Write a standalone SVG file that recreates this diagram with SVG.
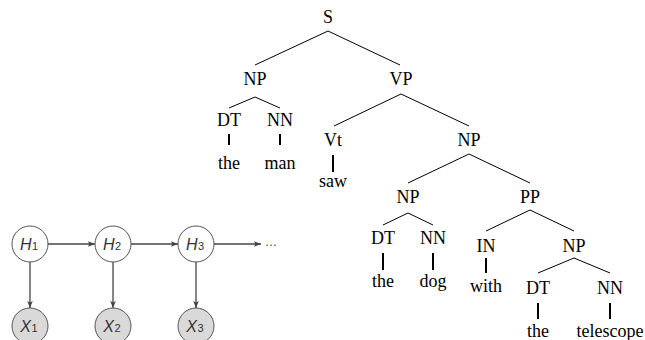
<svg xmlns="http://www.w3.org/2000/svg" width="645" height="340" viewBox="0 0 645 340">
<defs>
<style>
.t{font-family:"Liberation Serif","Times New Roman",serif;font-size:18px;fill:#000;text-anchor:middle}
.e{stroke:#000;stroke-width:1;fill:none}
.v{stroke:#000;stroke-width:2;fill:none}
.h{fill:#fff;stroke:#555;stroke-width:1}
.x{fill:#d9d9d9;stroke:#555;stroke-width:1}
.l{font-family:"Liberation Sans",Arial,sans-serif;font-size:16px;font-style:italic;fill:#333;text-anchor:middle}
.s{font-size:11px;font-style:normal}
.a{stroke:#444;stroke-width:1.3;fill:none;marker-end:url(#ah)}
</style>
<marker id="ah" viewBox="0 0 10 10" refX="10" refY="5" markerWidth="7" markerHeight="7" markerUnits="userSpaceOnUse" orient="auto">
<path d="M0,1 L10,5 L0,9 L2,5 Z" fill="#444"/>
</marker>
</defs>
<rect width="645" height="340" fill="#fff"/>

<g id="tree-edges">
<path class="e" d="M328,31 L255,65 M328,31 L400,65"/>
<path class="e" d="M255,97 L229,108 M255,97 L280,108"/>
<path class="e" d="M401,94 L334,126 M401,94 L469,126"/>
<path class="e" d="M469,154 L408,183 M469,154 L530,183"/>
<path class="e" d="M408,213 L383,225 M408,213 L433,225"/>
<path class="e" d="M530,210 L486,231 M530,210 L574,231"/>
<path class="e" d="M574,258 L538,273 M574,258 L610,273"/>
<path class="v" d="M229,134 V145 M280,134 V145 M333,155 V172 M383,253 V270 M433,253 V270 M486,258 V273 M538,303 V319 M610,303 V319"/>
</g>

<g id="S"><text class="t" x="328" y="22.5">S</text></g>
<g id="NP1"><text class="t" x="255" y="85">NP</text></g>
<g id="VP"><text class="t" x="401" y="85">VP</text></g>
<g id="DT1"><text class="t" x="229" y="126">DT</text></g>
<g id="NN1"><text class="t" x="280" y="126">NN</text></g>
<g id="the1"><text class="t" x="229" y="168.5">the</text></g>
<g id="man"><text class="t" x="280" y="168.5">man</text></g>
<g id="Vt"><text class="t" x="333" y="145.5">Vt</text></g>
<g id="NP2"><text class="t" x="469" y="145.5">NP</text></g>
<g id="saw"><text class="t" x="333" y="187">saw</text></g>
<g id="NP3"><text class="t" x="408" y="202.5">NP</text></g>
<g id="PP"><text class="t" x="530" y="202.5">PP</text></g>
<g id="DT2"><text class="t" x="383" y="243.5">DT</text></g>
<g id="NN2"><text class="t" x="433" y="243.5">NN</text></g>
<g id="IN"><text class="t" x="486" y="252">IN</text></g>
<g id="NP4"><text class="t" x="574" y="252">NP</text></g>
<g id="the2"><text class="t" x="383" y="287">the</text></g>
<g id="dog"><text class="t" x="433" y="287">dog</text></g>
<g id="with"><text class="t" x="486" y="292">with</text></g>
<g id="DT3"><text class="t" x="538" y="293.5">DT</text></g>
<g id="NN3"><text class="t" x="610" y="293.5">NN</text></g>
<g id="the3"><text class="t" x="538" y="337">the</text></g>
<g id="telescope"><text class="t" x="610" y="337">telescope</text></g>

<g id="hmm-edges">
<line class="a" x1="48" y1="244" x2="95" y2="244"/>
<line class="a" x1="131" y1="244" x2="178" y2="244"/>
<line class="a" x1="214" y1="244" x2="261" y2="244"/>
<line class="a" x1="30" y1="262" x2="30" y2="308"/>
<line class="a" x1="113" y1="262" x2="113" y2="308"/>
<line class="a" x1="196" y1="262" x2="196" y2="308"/>
</g>

<g id="H1"><circle class="h" cx="30" cy="244" r="18"/><text class="l" x="29" y="249.5">H<tspan class="s" dx="0.5" dy="0">1</tspan></text></g>
<g id="H2"><circle class="h" cx="113" cy="244" r="18"/><text class="l" x="112" y="249.5">H<tspan class="s" dx="0.5" dy="0">2</tspan></text></g>
<g id="H3"><circle class="h" cx="196" cy="244" r="18"/><text class="l" x="195" y="249.5">H<tspan class="s" dx="0.5" dy="0">3</tspan></text></g>
<g id="dots"><text x="265" y="246" style="font-family:'Liberation Sans',Arial,sans-serif;font-size:12px;fill:#444">…</text></g>
<g id="X1"><circle class="x" cx="30" cy="326" r="18"/><text class="l" x="29" y="332">X<tspan class="s" dx="0.5" dy="0">1</tspan></text></g>
<g id="X2"><circle class="x" cx="113" cy="326" r="18"/><text class="l" x="112" y="332">X<tspan class="s" dx="0.5" dy="0">2</tspan></text></g>
<g id="X3"><circle class="x" cx="196" cy="326" r="18"/><text class="l" x="195" y="332">X<tspan class="s" dx="0.5" dy="0">3</tspan></text></g>
</svg>
